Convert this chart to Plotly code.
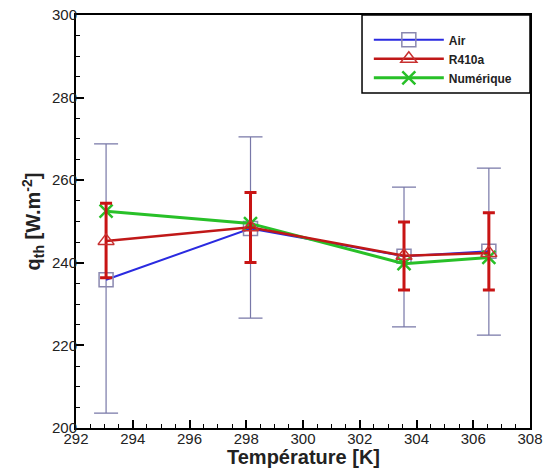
import plotly.graph_objects as go

# Data
temps = [293.06, 298.15, 303.56, 306.55]

air_q = [235.9, 248.3, 241.6, 242.8]
air_hi = [268.8, 270.5, 258.3, 262.9]
air_lo = [203.6, 226.6, 224.5, 222.5]

r410_q = [245.3, 248.6, 241.7, 242.4]
r410_hi = [254.4, 257.0, 249.9, 252.1]
r410_lo = [236.4, 240.1, 233.4, 233.4]

num_q = [252.5, 249.5, 239.8, 241.3]

series_names = ["Air", "R410a", "Numérique"]

x_ticks = [292, 294, 296, 298, 300, 302, 304, 306, 308]
y_ticks = [200, 220, 240, 260, 280, 300]

x_title = "Température [K]"
y_title = "q<sub>th</sub> [W.m<sup>-2</sup>]"

def err(vals, hi, lo):
    return [h - v for v, h in zip(vals, hi)], [v - l for v, l in zip(vals, lo)]

air_p, air_m = err(air_q, air_hi, air_lo)
r_p, r_m = err(r410_q, r410_hi, r410_lo)

fig = go.Figure()
fig.add_trace(go.Scatter(
    x=temps, y=air_q, name=series_names[0], mode="lines+markers", legendrank=1,
    line=dict(color="#2a2ae0", width=2),
    marker=dict(symbol="square-open", size=14, color="#8a88b0", line=dict(width=1.5)),
    error_y=dict(type="data", symmetric=False, array=air_p, arrayminus=air_m,
                 color="#7878a8", thickness=1.2, width=12),
))
fig.add_trace(go.Scatter(
    x=temps, y=num_q, name=series_names[2], mode="lines+markers", legendrank=3,
    line=dict(color="#28c028", width=3),
    marker=dict(symbol="x-thin", size=13, color="#28c028", line=dict(width=2.5, color="#28c028")),
))
fig.add_trace(go.Scatter(
    x=temps, y=r410_q, name=series_names[1], mode="lines+markers", legendrank=2,
    line=dict(color="#c01818", width=2.5),
    marker=dict(symbol="triangle-up-open", size=14, color="#c83030", line=dict(width=1.5)),
    error_y=dict(type="data", symmetric=False, array=r_p, arrayminus=r_m,
                 color="#c81414", thickness=3, width=6),
))

axis_common = dict(
    showgrid=False, zeroline=False, showline=True, linecolor="black", linewidth=2,
    mirror=True, ticks="inside", tickcolor="black", tickwidth=2, ticklen=8,
    automargin=False, ticklabeloverflow="allow",
    tickfont=dict(family="Liberation Sans, Arial", size=15, color="#222"),
)

fig.update_layout(
    width=544, height=468,
    margin=dict(l=76, r=14, t=15, b=40),
    paper_bgcolor="white", plot_bgcolor="white",
    showlegend=True,
    legend=dict(
        x=0.645, xanchor="left", y=0.975, yanchor="top",
        bgcolor="rgba(0,0,0,0)", borderwidth=0,
        font=dict(family="Liberation Sans, Arial", size=12, color="#222", weight="bold"),
        itemwidth=70, traceorder="normal", tracegroupgap=0,
    ),
    xaxis=dict(range=[292, 308], tickvals=x_ticks, ticklabelstandoff=-4,
               minor=dict(dtick=0.5, ticks="inside", ticklen=4, tickcolor="black", tickwidth=1),
               **axis_common),
    yaxis=dict(range=[200, 300], tickvals=y_ticks, ticklabelstandoff=-6,
               minor=dict(dtick=5, ticks="inside", ticklen=4, tickcolor="black", tickwidth=1),
               title=dict(text="<b>" + y_title + "</b>", standoff=6,
                          font=dict(family="Liberation Sans, Arial", size=20, color="#222")),
               **axis_common),
    annotations=[dict(text="<b>" + x_title + "</b>", xref="paper", yref="paper",
                      x=0.5, y=-0.07, xanchor="center", yanchor="middle", showarrow=False,
                      font=dict(family="Liberation Sans, Arial", size=20, color="#222"))],
    shapes=[dict(type="rect", xref="paper", yref="paper", x0=0.63, x1=1.0, y0=0.811, y1=1.0,
                 line=dict(color="black", width=1.5), fillcolor="rgba(0,0,0,0)")],
)

# remove the browser's default 8px body margin so the figure fills the window
fig.write_html("out.html", config={"displayModeBar": False},
               post_script="document.body.style.margin='0';")
